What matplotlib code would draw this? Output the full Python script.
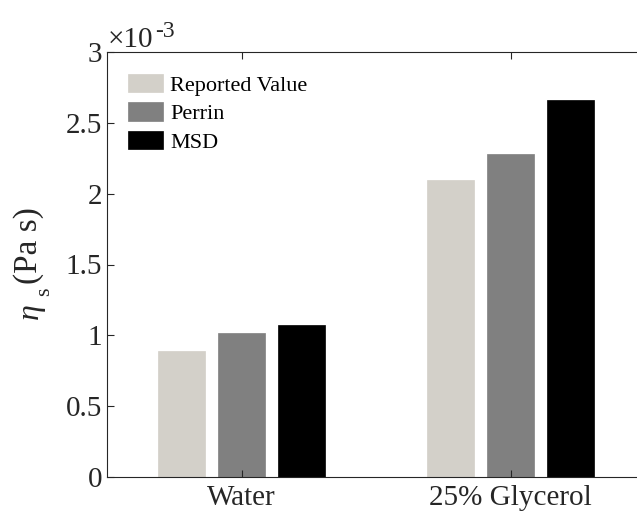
import numpy as np
import matplotlib
matplotlib.use("Agg")
import matplotlib.pyplot as plt
from matplotlib.ticker import FormatStrFormatter

# viscosity values, units of 1e-3 Pa s
categories = ["Water", "25% Glycerol"]
series_names = ["Reported Value", "Perrin", "MSD"]
reported = [0.89, 2.10]
perrin = [1.02, 2.28]
msd = [1.07, 2.66]
yticks = [0, 0.5, 1, 1.5, 2, 2.5, 3]

colors = ["#d3d0c9", "#808080", "#000000"]
txt = "#262626"

plt.rcParams["font.family"] = "Liberation Serif"

W, H = 637, 518
fig = plt.figure(figsize=(W / 100, H / 100), dpi=100)
# axes runs past the right edge of the figure (cropped like the original)
ax = fig.add_axes([107 / W, 1 - 477 / H, 538 / W, 425 / H])

x = np.arange(1, len(categories) + 1)
width = 0.177
offset = 0.223
for i, (vals, name) in enumerate(zip([reported, perrin, msd], series_names)):
    ax.bar(x + (i - 1) * offset, vals, width, color=colors[i],
           edgecolor=colors[i], linewidth=0.5, label=name)

ax.set_xlim(0.5, 2.5)
ax.set_ylim(0, 3)
ax.set_xticks(x)
ax.set_xticklabels(categories)
ax.set_yticks(yticks)
ax.yaxis.set_major_formatter(FormatStrFormatter("%g"))
ax.tick_params(direction="in", length=5, labelsize=21, colors=txt,
               top=True, right=False, width=0.8)
ax.tick_params(axis="x", pad=6)
for s in ["left", "bottom", "top"]:
    ax.spines[s].set_color(txt)
    ax.spines[s].set_linewidth(0.8)
ax.spines["right"].set_visible(False)


def px_text(px, py, s, size, **kw):
    # place text by pixel position (baseline start), like the original layout
    fig.text(px / W, 1 - py / H, s, fontsize=size, color=txt,
             ha="left", va="baseline", rotation_mode="anchor", **kw)


# y label: eta_s (Pa s), written bottom to top
px_text(38, 319, "η", 23, rotation=90, style="italic")
px_text(49, 296, "s", 16, rotation=90)
px_text(37, 284, "(Pa s)", 24, rotation=90)

# exponent label above the axis
px_text(108, 47, "×10", 21)
px_text(155, 37, "-3", 17)

ax.legend(loc="upper left", frameon=False, fontsize=16, handlelength=1.6,
          handleheight=0.9, handletextpad=0.3, labelspacing=0.3,
          bbox_to_anchor=(0.01, 0.985), borderaxespad=0.3)

fig.savefig("out.png", dpi=100)
